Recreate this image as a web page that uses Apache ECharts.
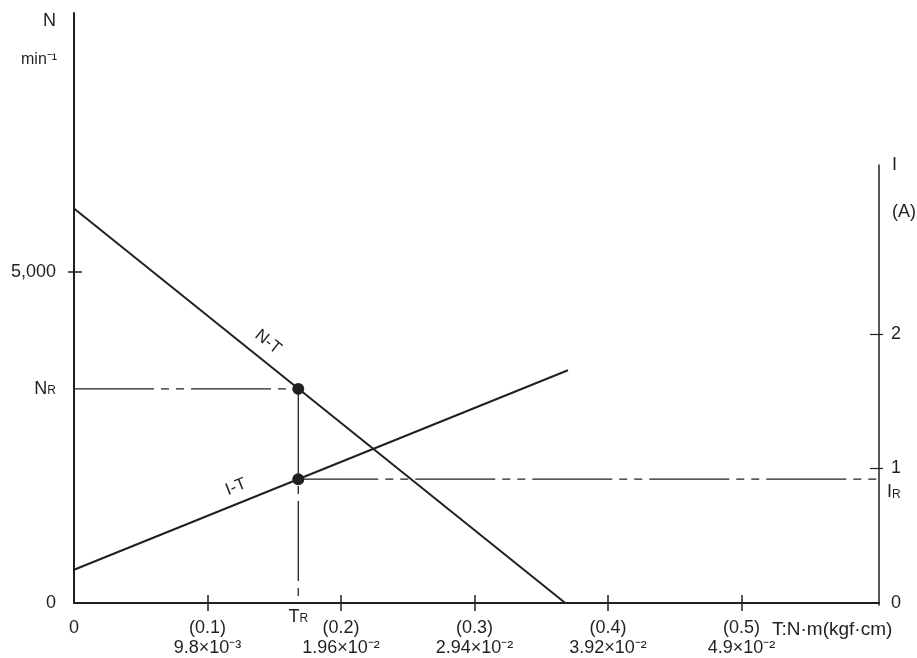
<!DOCTYPE html>
<html>
<head>
<meta charset="utf-8">
<script src="https://cdn.jsdelivr.net/npm/echarts@6/dist/echarts.min.js"></script>
<style>
    html, body { margin: 0; padding: 0; background: #fff; }
    #chart { width: 917px; height: 658px; }
</style>
</head>
<body>
<div id="chart"></div>
<script>
// N-T line (torque vs speed)
var ntTorque = [0, 0.368];
var ntSpeed = [5950, 0];
// I-T line (torque vs current)
var itTorque = [0, 0.37];
var itCurrent = [0.247, 1.73];
// rated point
var ratedT = 0.168;
var ratedN = 3230;
var ratedI = 0.92;
// axis ticks
var xTicks = [0, 0.1, 0.2, 0.3, 0.4, 0.5];
var xTop = ['0', '(0.1)', '(0.2)', '(0.3)', '(0.4)', '(0.5)'];
var xBottom = ['', '9.8×10⁻³', '1.96×10⁻²', '2.94×10⁻²', '3.92×10⁻²', '4.9×10⁻²'];
var nTicks = [5000];
var iTicks = [1, 2];
var iLabels = [0, 1, 2];

var XMAX = 0.603;
var NMAX = 8900;
var IMAX = 4.385;   // same pixel height as NMAX on the shared grid
var ink = '#231f20';
var chain = [80, 7, 8, 7, 8, 7];

drawChart();

function zip(a, b) {
    var out = [];
    for (var i = 0; i < a.length; i++) out.push([a[i], b[i]]);
    return out;
}

function drawChart() {
    var dom = document.getElementById('chart');
    var myChart = echarts.init(dom);
    var font = 'Liberation Sans, Arial, sans-serif';
    var tickStyle = { color: ink, width: 1.5 };
    var subRich = {
        a: { fontSize: 18, color: ink, fontFamily: font },
        b: { fontSize: 12, color: ink, fontFamily: font, padding: [4, 0, 0, 0] }
    };
    var option = {
        animation: false,
        textStyle: { fontFamily: font, color: ink },
        grid: [
            { left: 74, right: 38, top: 13, bottom: 53 },
            { left: 74, right: 38, top: 165, bottom: 53 }
        ],
        xAxis: [{
            type: 'value', gridIndex: 0, min: 0, max: XMAX, position: 'bottom',
            axisLine: { onZero: false, lineStyle: { color: ink, width: 2 } },
            axisTick: { inside: true, length: 8, customValues: xTicks.slice(1), lineStyle: tickStyle },
            axisLabel: {
                customValues: xTicks,
                margin: 15,
                color: ink,
                fontSize: 18,
                lineHeight: 20,
                fontFamily: font,
                formatter: function (v) {
                    for (var i = 0; i < xTicks.length; i++) {
                        if (Math.abs(xTicks[i] - v) < 1e-9) {
                            return xBottom[i] ? xTop[i] + '\n' + xBottom[i] : xTop[i];
                        }
                    }
                    return '';
                }
            },
            splitLine: { show: false }
        }, {
            type: 'value', gridIndex: 0, min: 0, max: XMAX, position: 'bottom',
            axisLine: { show: false, onZero: false },
            axisTick: { inside: false, length: 8, customValues: xTicks.slice(1), lineStyle: tickStyle },
            axisLabel: { show: false },
            splitLine: { show: false }
        }, {
            type: 'value', gridIndex: 1, min: 0, max: XMAX, position: 'bottom',
            axisLine: { show: false, onZero: false },
            axisTick: { show: false },
            axisLabel: { show: false },
            splitLine: { show: false }
        }],
        yAxis: [{
            type: 'value', gridIndex: 0, min: 0, max: NMAX, position: 'left',
            axisLine: { show: true, onZero: false, lineStyle: { color: ink, width: 2 } },
            axisTick: { show: true, inside: false, length: 6, customValues: nTicks, lineStyle: tickStyle },
            axisLabel: {
                customValues: [0, 5000, ratedN],
                margin: 18,
                color: ink,
                fontSize: 18,
                fontFamily: font,
                formatter: function (v) {
                    if (v === ratedN) return '{a|N}{b|R}';
                    if (v === 5000) return '5,000';
                    return '0';
                },
                rich: subRich
            },
            splitLine: { show: false }
        }, {
            type: 'value', gridIndex: 0, min: 0, max: NMAX, position: 'left',
            axisLine: { show: false, onZero: false },
            axisTick: { show: true, inside: true, length: 8, customValues: nTicks, lineStyle: tickStyle },
            axisLabel: { show: false },
            splitLine: { show: false }
        }, {
            type: 'value', gridIndex: 0, min: 0, max: IMAX, position: 'right',
            axisLine: { show: false, onZero: false },
            axisTick: { show: true, inside: true, length: 9, customValues: iTicks, lineStyle: { color: ink, width: 1.2 } },
            axisLabel: {
                customValues: iLabels,
                margin: 12,
                color: ink,
                fontSize: 18,
                fontFamily: font
            },
            splitLine: { show: false }
        }, {
            type: 'value', gridIndex: 0, min: 0, max: IMAX, position: 'right',
            axisLine: { show: false, onZero: false },
            axisTick: { show: true, inside: false, length: 4, customValues: iTicks, lineStyle: { color: ink, width: 1.2 } },
            axisLabel: { show: false },
            splitLine: { show: false }
        }, {
            // right axis line only (shorter than the left one)
            type: 'value', gridIndex: 1, min: 0, max: 1, position: 'right',
            axisLine: { show: true, onZero: false, lineStyle: { color: ink, width: 1.5 } },
            axisTick: { show: false },
            axisLabel: { show: false },
            splitLine: { show: false }
        }],
        graphic: [
            { type: 'text', left: 43, top: 12, style: { text: 'N', fontSize: 18, fill: ink, fontFamily: font } },
            { type: 'text', left: 21, top: 52, style: { text: 'min⁻¹', fontSize: 16, fill: ink, fontFamily: font } },
            { type: 'text', left: 892, top: 156, style: { text: 'I', fontSize: 18, fill: ink, fontFamily: font } },
            { type: 'text', left: 892, top: 203, style: { text: '(A)', fontSize: 18, fill: ink, fontFamily: font } },
            { type: 'text', left: 772, top: 620, style: { text: 'T:N·m(kgf·cm)', fontSize: 19, fill: ink, fontFamily: font } },
            {
                type: 'text', x: 268, y: 342, rotation: -0.675,
                style: { text: 'N-T', fontSize: 17, fill: ink, fontFamily: font, align: 'center', verticalAlign: 'middle' }
            },
            {
                type: 'text', x: 236, y: 487, rotation: 0.38,
                style: { text: 'I-T', fontSize: 17, fill: ink, fontFamily: font, align: 'center', verticalAlign: 'middle' }
            }
        ],
        series: [{
            name: 'N-T', type: 'line', xAxisIndex: 0, yAxisIndex: 0,
            symbol: 'none', silent: true,
            lineStyle: { color: ink, width: 2 },
            data: zip(ntTorque, ntSpeed)
        }, {
            name: 'I-T', type: 'line', xAxisIndex: 0, yAxisIndex: 2,
            symbol: 'none', silent: true,
            lineStyle: { color: ink, width: 2 },
            data: zip(itTorque, itCurrent)
        }, {
            name: 'NR line', type: 'line', xAxisIndex: 0, yAxisIndex: 0,
            symbol: 'none', silent: true,
            lineStyle: { color: ink, width: 1.3, type: chain },
            data: [[0, ratedN], [ratedT, ratedN]]
        }, {
            name: 'NR-IR drop', type: 'line', xAxisIndex: 0, yAxisIndex: 2,
            symbol: 'none', silent: true,
            lineStyle: { color: ink, width: 1.3 },
            data: [[ratedT, ratedN / NMAX * IMAX], [ratedT, ratedI]]
        }, {
            name: 'TR line', type: 'line', xAxisIndex: 0, yAxisIndex: 2,
            symbol: 'none', silent: true,
            lineStyle: { color: ink, width: 1.3, type: chain, dashOffset: 95 },
            data: [{
                value: [ratedT, 0],
                symbol: 'circle', symbolSize: 0.1,
                label: {
                    show: true, position: 'bottom', distance: 5,
                    formatter: '{a|T}{b|R}',
                    rich: subRich
                }
            }, [ratedT, ratedI]]
        }, {
            name: 'IR line', type: 'line', xAxisIndex: 0, yAxisIndex: 2,
            symbol: 'none', silent: true,
            lineStyle: { color: ink, width: 1.3, type: chain },
            data: [[ratedT, ratedI], {
                value: [XMAX, ratedI],
                symbol: 'circle', symbolSize: 0.1,
                label: {
                    show: true, position: 'right', distance: 8, offset: [0, 13],
                    formatter: '{a|I}{b|R}',
                    rich: subRich
                }
            }]
        }, {
            name: 'rated N', type: 'scatter', xAxisIndex: 0, yAxisIndex: 0,
            symbol: 'circle', symbolSize: 12, silent: true,
            itemStyle: { color: ink, opacity: 1 },
            data: [[ratedT, ratedN]]
        }, {
            name: 'rated I', type: 'scatter', xAxisIndex: 0, yAxisIndex: 2,
            symbol: 'circle', symbolSize: 12, silent: true,
            itemStyle: { color: ink, opacity: 1 },
            data: [[ratedT, ratedI]]
        }]
    };
    myChart.setOption(option, true);
    window.onresize = myChart.resize;
}
</script>
</body>
</html>
